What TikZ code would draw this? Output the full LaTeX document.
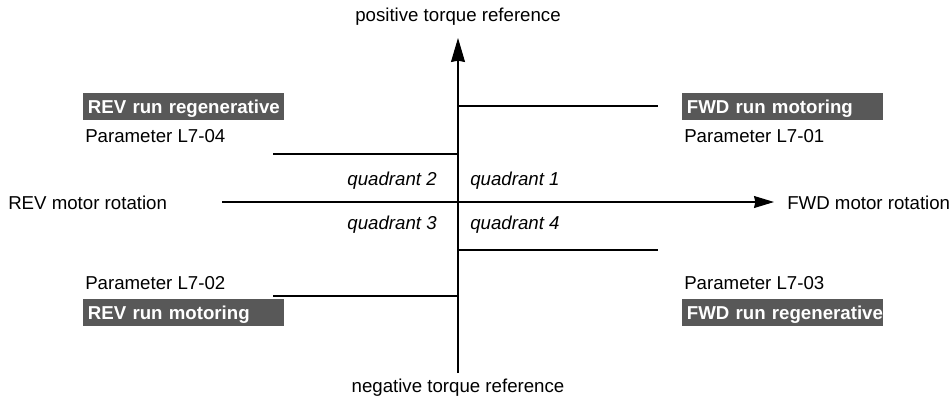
\documentclass[tikz,border=0pt]{standalone}
\usepackage{fontspec}
\setmainfont{Liberation Sans}
\usepackage{tikz}
\usetikzlibrary{arrows.meta}

\begin{document}
\begin{tikzpicture}[x=0.75pt,y=-0.75pt,
  every node/.style={inner sep=0pt, font=\fontsize{14}{16}\selectfont},
  boxLabel/.style={anchor=north west, fill=boxGray, text=white,
    font=\fontsize{14}{16}\selectfont\bfseries, inner xsep=3.5pt, inner ysep=0pt,
    text width=143.75pt, align=left, minimum height=20.25pt,
    text height=10.2pt, text depth=0pt},
  axisLine/.style={black, line width=0.8pt},
  stepLine/.style={black, line width=2.1pt},
  quadLabel/.style={font=\fontsize{14}{16}\selectfont\itshape}
]

% Colori
\definecolor{boxGray}{HTML}{585858}

% Area del disegno
\useasboundingbox (0,0) rectangle (952,401);

% Assi
\coordinate (yTop) at (458,38);
\coordinate (yBot) at (458,373);
\coordinate (xLeft) at (222,202);
\coordinate (xRight) at (774,202);
\draw[axisLine, -{Stealth[length=18pt,width=10.5pt,inset=1pt]}] (yBot) -- (yTop);
\draw[axisLine, -{Stealth[length=15pt,width=9pt,inset=1pt]}] (xLeft) -- (xRight);

% Titoli degli assi
\node[anchor=base] (posRef) at (458,21.5) {positive torque reference};
\node[anchor=base] (negRef) at (458,392) {negative torque reference};
\node[anchor=base west] (revRot) at (8,209) {REV motor rotation};
\node[anchor=base west] (fwdRot) at (787,209) {FWD motor rotation};

% Limiti di coppia
\coordinate (qOneA) at (458,106);   \coordinate (qOneB) at (658,106);
\coordinate (qTwoA) at (273,154);   \coordinate (qTwoB) at (458,154);
\coordinate (qFourA) at (458,250);  \coordinate (qFourB) at (658,250);
\coordinate (qThreeA) at (273,296); \coordinate (qThreeB) at (458,296);
\draw[stepLine] (qOneA) -- (qOneB);
\draw[stepLine] (qTwoA) -- (qTwoB);
\draw[stepLine] (qFourA) -- (qFourB);
\draw[stepLine] (qThreeA) -- (qThreeB);

% Quadranti
\node[quadLabel, anchor=base east] (quadII) at (437,185) {quadrant 2};
\node[quadLabel, anchor=base west] (quadI) at (470,185) {quadrant 1};
\node[quadLabel, anchor=base east] (quadIII) at (437,229) {quadrant 3};
\node[quadLabel, anchor=base west] (quadIV) at (470,229) {quadrant 4};

% Riquadri di funzionamento
\node[boxLabel] (revRegen) at (83,93) {\mbox{REV run regenerative}};
\node[boxLabel] (fwdMot) at (682,93) {\mbox{FWD run motoring}};
\node[boxLabel] (revMot) at (83,299) {\mbox{REV run motoring}};
\node[boxLabel] (fwdRegen) at (682,299) {\mbox{FWD run regenerative}};

% Parametri
\node[anchor=base west] (parLfour) at (85,142) {Parameter L7-04};
\node[anchor=base west] (parLone) at (684,142) {Parameter L7-01};
\node[anchor=base west] (parLtwo) at (85,289) {Parameter L7-02};
\node[anchor=base west] (parLthree) at (684,289) {Parameter L7-03};

\end{tikzpicture}
\end{document}
